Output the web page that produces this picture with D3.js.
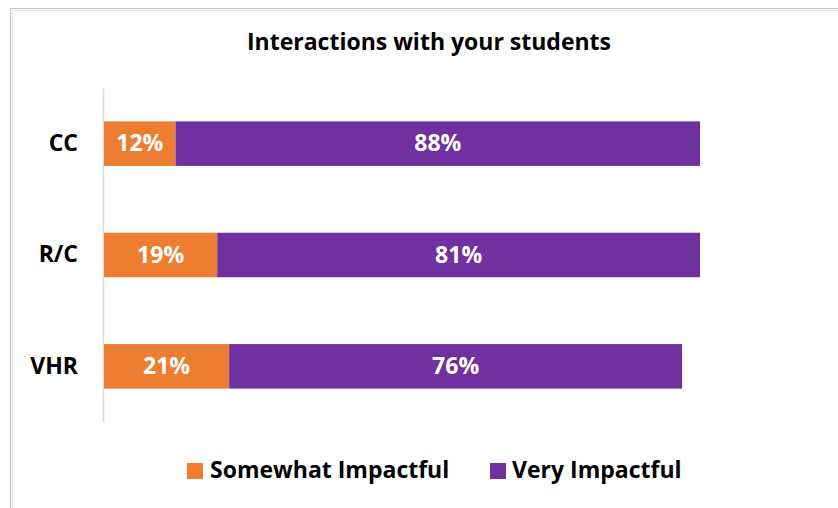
<!DOCTYPE html>
<html>
<head>
<meta charset="utf-8">
<script src="https://cdn.jsdelivr.net/npm/d3@7"></script>
<style>
  html, body { margin: 0; padding: 0; background: #fff; }
  svg { display: block; }
  text { font-family: "Open Sans", Lato, sans-serif; font-weight: 700; }
</style>
</head>
<body>
<svg id="chart" width="838" height="508"></svg>
<script>
// Survey responses: share of respondents per group
const categories = ["CC", "R/C", "VHR"];
const seriesNames = ["Somewhat Impactful", "Very Impactful"];
const somewhatImpactful = [12, 19, 21];
const veryImpactful = [88, 81, 76];
const chartTitle = "Interactions with your students";

const colors = ["#ED7D31", "#7030A0"];

const svg = d3.select("#chart");
const W = 838, H = 508;

// Chart frame (double grey border)
svg.append("rect").attr("x", 10.5).attr("y", 8.5).attr("width", W + 10).attr("height", H + 10)
  .attr("fill", "#fff").attr("stroke", "#c4c4c4").attr("stroke-width", 1);
svg.append("rect").attr("x", 12.5).attr("y", 10.5).attr("width", W + 10).attr("height", H + 10)
  .attr("fill", "none").attr("stroke", "#e3e3e3").attr("stroke-width", 1);

const rows = categories.map((c, i) => ({
  cat: c,
  values: [somewhatImpactful[i], veryImpactful[i]]
}));

const x = d3.scaleLinear().domain([0, 100]).range([104, 700]);
const y = d3.scaleBand().domain(categories).range([88, 422]).paddingInner(0.6).paddingOuter(0.3);

// Title
svg.append("text")
  .attr("x", 429).attr("y", 50)
  .attr("text-anchor", "middle")
  .attr("font-size", 23)
  .attr("fill", "#000")
  .text(chartTitle);

// Vertical category axis
const yAxis = d3.axisLeft(y).tickSize(0).tickPadding(25);
const gAxis = svg.append("g").attr("transform", `translate(${x(0) - 1},0)`).call(yAxis);
gAxis.select(".domain").attr("stroke", "#d9d9d9").attr("stroke-width", 1.5);
gAxis.selectAll(".tick text")
  .attr("font-size", 23)
  .attr("fill", "#000")
  .style("font-family", "'Open Sans', Lato, sans-serif")
  .style("font-weight", 700);

// Stacked bars
const rowG = svg.append("g").selectAll("g").data(rows).join("g");
rowG.each(function(d) {
  const g = d3.select(this);
  let acc = 0;
  d.values.forEach((v, k) => {
    const x0 = acc, x1 = acc + v;
    acc = x1;
    g.append("rect")
      .attr("x", x(x0)).attr("y", y(d.cat))
      .attr("width", x(x1) - x(x0)).attr("height", y.bandwidth())
      .attr("fill", colors[k]);
    g.append("text")
      .attr("x", (x(x0) + x(x1)) / 2)
      .attr("y", y(d.cat) + y.bandwidth() / 2)
      .attr("dy", "0.34em")
      .attr("text-anchor", "middle")
      .attr("font-size", 23)
      .attr("fill", "#fff")
      .text(v + "%");
  });
});

// Legend
const legendItems = [
  { name: seriesNames[0], color: colors[0], sx: 187, tx: 210 },
  { name: seriesNames[1], color: colors[1], sx: 490, tx: 512 }
];
const lg = svg.append("g").selectAll("g").data(legendItems).join("g");
lg.append("rect").attr("x", d => d.sx).attr("y", 463).attr("width", 16).attr("height", 16)
  .attr("fill", d => d.color);
lg.append("text").attr("x", d => d.tx).attr("y", 470).attr("dy", "0.34em")
  .attr("font-size", 23).attr("fill", "#000")
  .text(d => d.name);
</script>
</body>
</html>
